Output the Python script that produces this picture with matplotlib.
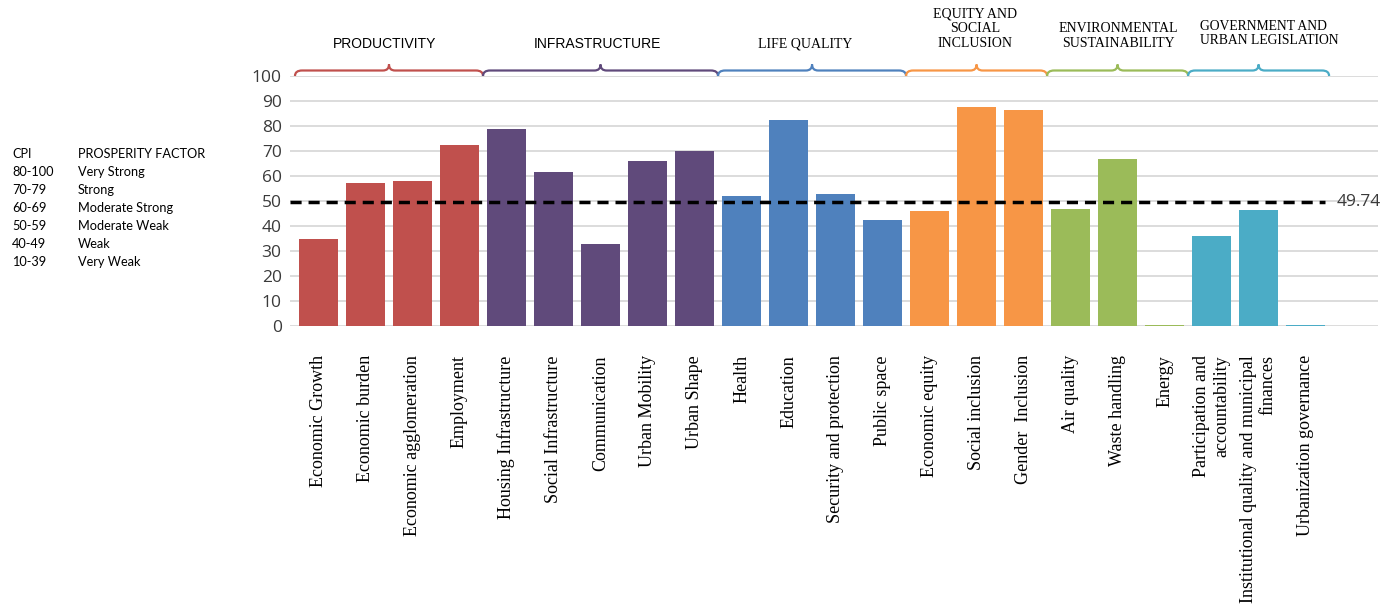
import numpy as np
import matplotlib
matplotlib.use("Agg")
import matplotlib.pyplot as plt
from matplotlib.path import Path
from matplotlib.patches import PathPatch

# sub-index scores, in order along the x axis
labels = ["Economic Growth", "Economic burden", "Economic agglomeration", "Employment",
          "Housing Infrastructure", "Social Infrastructure", "Communication", "Urban Mobility",
          "Urban Shape", "Health", "Education", "Security and protection", "Public space",
          "Economic equity", "Social inclusion", "Gender  Inclusion", "Air quality",
          "Waste handling", "Energy", "Participation and\naccountability",
          "Institutional quality and municipal\nfinances", "Urbanization governance"]
scores = [34.7, 57.3, 58.2, 72.3, 79.0, 61.8, 32.8, 66.0, 70.0, 52.0, 82.3, 52.8, 42.4,
          46.0, 87.7, 86.4, 46.9, 66.8, 0.5, 36.1, 46.5, 0.5]

# dimensions: name, first bar, last bar, colour
groups = ["PRODUCTIVITY", "INFRASTRUCTURE", "LIFE QUALITY", "EQUITY AND\nSOCIAL\nINCLUSION",
          "ENVIRONMENTAL\nSUSTAINABILITY", "GOVERNMENT AND\nURBAN LEGISLATION"]
group_span = [(0, 3), (4, 8), (9, 12), (13, 15), (16, 18), (19, 21)]
group_colors = ["#C0504D", "#604A7B", "#4F81BD", "#F79646", "#9BBB59", "#4BACC6"]

cpi_mean = 49.74

legend_ranges = ["80-100", "70-79", "60-69", "50-59", "40-49", "10-39"]
legend_factors = ["Very Strong", "Strong", "Moderate Strong", "Moderate Weak", "Weak", "Very Weak"]

W, H = 1393, 611
fig = plt.figure(figsize=(W / 100, H / 100), dpi=100)
ax = fig.add_axes([290 / W, 1 - 326 / H, (1378 - 290) / W, 250 / H])

x = np.arange(len(labels))
colors = []
for (a, b), c in zip(group_span, group_colors):
    colors += [c] * (b - a + 1)

ax.bar(x, scores, width=0.815, color=colors, zorder=2)

ax.set_xlim(-0.606, 22.54)
ax.set_ylim(0, 100)
ax.set_yticks(np.arange(0, 101, 10))
ax.yaxis.grid(True, color="#D9D9D9", linewidth=1.3, zorder=0)
ax.set_axisbelow(True)
for s in ax.spines.values():
    s.set_visible(False)
ax.tick_params(axis="both", length=0)
ax.tick_params(axis="y", pad=6, labelsize=12.5, labelcolor="#3A3A3A")
for t in ax.get_yticklabels():
    t.set_fontfamily("Open Sans")

ax.set_xticks(x)
ax.set_xticklabels(labels, rotation=90, fontsize=13, family="Liberation Serif",
                   va="top", ha="center", multialignment="right")
ax.tick_params(axis="x", pad=21)

# average line
ax.plot([-0.606, 21.41], [cpi_mean, cpi_mean], color="black", linestyle=(0, (3.2, 2)),
        linewidth=2.5, zorder=3)
ax.text(21.65, cpi_mean, f"{cpi_mean:.2f}", fontsize=12.5, family="Open Sans",
        color="#3A3A3A", va="center", ha="left")

# curly braces above each dimension
flat, tip = 102.2, 104.6
for (a, b), c in zip(group_span, group_colors):
    x0, x1 = a - 0.5, b + 0.5
    m = (x0 + x1) / 2
    verts = [(x0, 100), (x0, flat), (x0 + 0.15, flat), (m - 0.13, flat),
             (m, flat), (m, tip), (m, flat), (m + 0.13, flat),
             (x1 - 0.15, flat), (x1, flat), (x1, 100)]
    codes = [Path.MOVETO, Path.CURVE3, Path.CURVE3, Path.LINETO,
             Path.CURVE3, Path.CURVE3, Path.CURVE3, Path.CURVE3,
             Path.LINETO, Path.CURVE3, Path.CURVE3]
    ax.add_patch(PathPatch(Path(verts, codes), facecolor="none", edgecolor=c,
                           linewidth=1.6, clip_on=False, zorder=4))

# dimension titles
fig.text(384.5 / W, 1 - 44 / H, groups[0], family="Liberation Sans", fontsize=10,
         ha="center", va="center")
fig.text(597 / W, 1 - 44 / H, groups[1], family="Liberation Sans", fontsize=10,
         ha="center", va="center")
fig.text(805 / W, 1 - 44 / H, groups[2], family="Liberation Serif", fontsize=10,
         ha="center", va="center")
fig.text(975 / W, 1 - 50 / H, groups[3], family="Liberation Serif", fontsize=10,
         ha="center", va="bottom", linespacing=1.15)
fig.text(1118 / W, 1 - 50 / H, groups[4], family="Liberation Serif", fontsize=10,
         ha="center", va="bottom", linespacing=1.15)
fig.text(1200 / W, 1 - 47 / H, groups[5], family="Liberation Serif", fontsize=9.8,
         ha="left", va="bottom", linespacing=1.15, multialignment="left")

# CPI scale table
rows_y = 154
fig.text(12 / W, 1 - rows_y / H, "CPI", family="Lato", fontsize=9.2, va="center")
fig.text(78 / W, 1 - rows_y / H, "PROSPERITY FACTOR", family="Lato", fontsize=9.2, va="center")
for i, (r, f) in enumerate(zip(legend_ranges, legend_factors)):
    yy = 1 - (rows_y + 18 * (i + 1)) / H
    fig.text(12 / W, yy, r, family="Lato", fontsize=9.2, va="center")
    fig.text(78 / W, yy, f, family="Lato", fontsize=9.2, va="center")

fig.savefig("out.png", dpi=100, facecolor="white")
